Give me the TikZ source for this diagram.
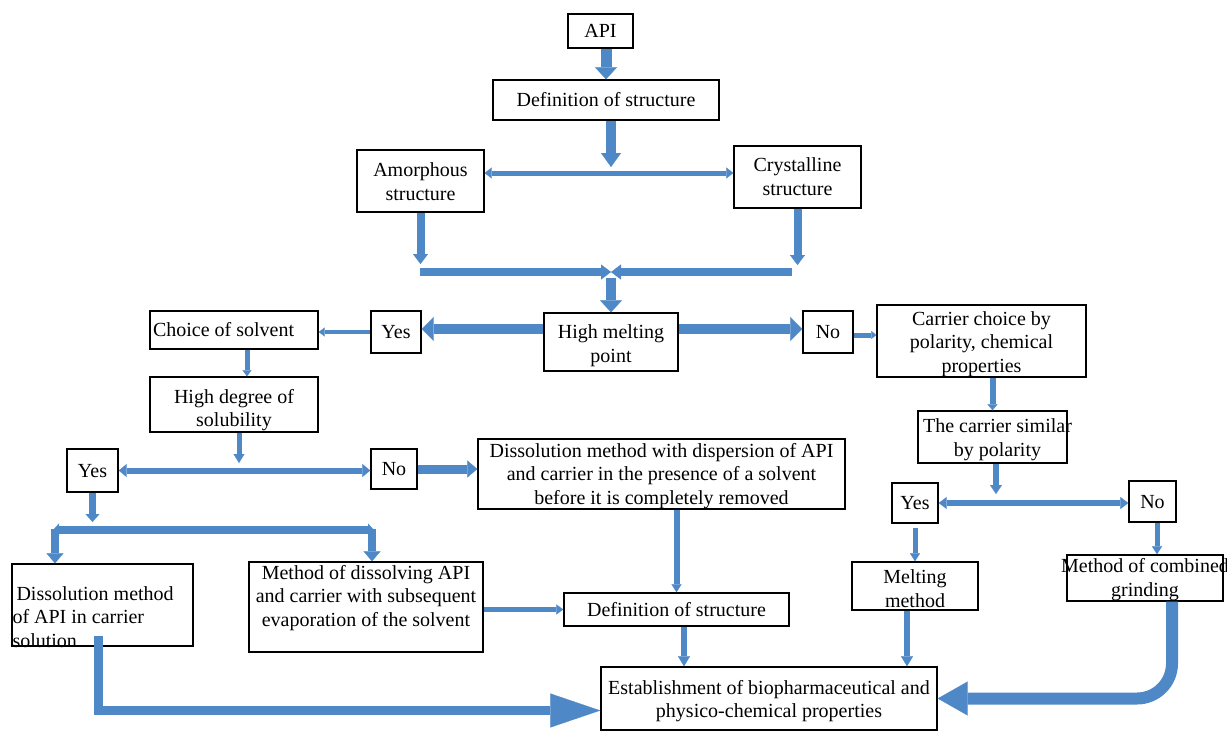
\documentclass[tikz,border=0pt]{standalone}
\usepackage{fontspec}
\setmainfont{Liberation Serif}
\usetikzlibrary{arrows.meta,calc}
\definecolor{ablue}{RGB}{79,136,199}
% centred text block of zero size, shifted down by #2
\newcommand{\tx}[3][c]{\makebox[0pt]{\raisebox{\dimexpr -7pt-#2\relax}[0pt][0pt]{\begin{tabular}{@{}#1@{}}#3\end{tabular}}}}
% left-aligned text block: #1 horizontal offset from centre, #2 shift down
\newcommand{\txl}[3]{\makebox[0pt][l]{\hspace{#1}\raisebox{\dimexpr -7pt-#2\relax}[0pt][0pt]{\begin{tabular}{@{}l@{}}#3\end{tabular}}}}
\begin{document}
\begin{tikzpicture}[x=1pt,y=-1pt,
  box/.style 2 args={draw=black, line width=1.4pt, minimum width=#1pt, minimum height=#2pt, inner sep=0pt, font=\fontsize{20}{23.5}\selectfont},
  ar/.style n args={3}{draw=ablue, line width=#1pt, line join=miter, -{Triangle[width=#2pt,length=#3pt,line width=0.2pt]}},
  dar/.style n args={3}{draw=ablue, line width=#1pt, {Triangle[width=#2pt,length=#3pt,line width=0.2pt]}-{Triangle[width=#2pt,length=#3pt,line width=0.2pt]}}]
\useasboundingbox (0,0) rectangle (1227,731);

% ---------- boxes ----------
\node[box={65}{34}] (api) at (600.5,31) {\tx{0pt}{API}};
\node[box={226}{40}] (def1) at (606,100) {\tx{0pt}{Definition of structure}};
\node[box={127}{62}] (amor) at (420.5,181) {\tx{1pt}{Amorphous\\structure}};
\node[box={127}{62}] (cryst) at (797.5,177) {\tx{0pt}{Crystalline\\structure}};
\node[box={134}{58}] (hmp) at (611,342) {\tx{2pt}{High melting\\point}};
\node[box={50}{42}] (yes1) at (396,332) {\tx{0pt}{Yes}};
\node[box={168}{38}] (choice) at (234,330) {\txl{-81pt}{0pt}{Choice of solvent}};
\node[box={50}{42}] (no1) at (828,332) {\tx{0pt}{No}};
\node[box={209}{72}] (carrier) at (981.5,341) {\tx{1pt}{Carrier choice by\\polarity, chemical\\properties}};
\node[box={168}{55}] (hds) at (234,404.5) {\tx{4pt}{High degree of\\solubility}};
\node[box={149}{52}] (sim) at (992.5,437) {\tx{1pt}{\hspace{10pt}The carrier similar\\\hspace{10pt}by polarity}};
\node[box={51}{43}] (yes2) at (92.5,470.5) {\tx{0pt}{Yes}};
\node[box={46}{40}] (no2) at (394,469) {\tx{0pt}{No}};
\node[box={367}{70}] (disp) at (661.5,474) {\tx{0pt}{Dissolution method with dispersion of API\\and carrier in the presence of a solvent\\before it is completely removed}};
\node[box={46}{40}] (yes3) at (915,503) {\tx{0pt}{Yes}};
\node[box={47}{41}] (no3) at (1152.5,501.5) {\tx{0pt}{No}};
\node[box={181}{82}] (dapi) at (102.5,605) {\txl{-90pt}{12pt}{\hspace{4pt}Dissolution method\\of API in carrier\\solution}};
\node[box={234}{90}] (mdis) at (366,607) {\tx{-11pt}{Method of dissolving API\\and carrier with subsequent\\evaporation of the solvent}};
\node[box={225}{33}] (def2) at (676.5,609.5) {\tx{0pt}{Definition of structure}};
\node[box={126}{48}] (melt) at (915,586) {\tx{3pt}{Melting\\method}};
\node[box={156}{46}] (comb) at (1145,578) {\tx{0pt}{Method of combined\\grinding}};
\node[box={336}{63}] (est) at (769,698.5) {\tx{1pt}{Establishment of biopharmaceutical and\\physico-chemical properties}};

% ---------- helper coordinates ----------
\coordinate (split) at (611,173);
\coordinate (splitTop) at (611,167);
\coordinate (amorEnd) at (420.5,264);
\coordinate (crystEnd) at (797.5,265);
\coordinate (jl) at (420,272);
\coordinate (jr) at (792,272);
\coordinate (jc) at (611,272);
\coordinate (jc2) at (611,278);
\coordinate (hy) at (0,329);
\coordinate (ny) at (0,335);
\coordinate (cs) at (247,0);
\coordinate (hdsx) at (239,0);
\coordinate (hdsEnd) at (239,463);
\coordinate (simx) at (996,0);
\coordinate (simEnd) at (996,494);
\coordinate (yes2End) at (92.5,522);
\coordinate (bl) at (53,530);
\coordinate (br) at (374,530);
\coordinate (blTop) at (55,529);
\coordinate (brTop) at (372,529);
\coordinate (no3x) at (1157,0);
\coordinate (d2x) at (684,0);
\coordinate (mx) at (907,0);
\coordinate (dstart) at (98,636);
\coordinate (cx) at (1172,0);

% ---------- arrows ----------
\draw[ar={11}{22}{12}] (api.south -| def1.north) -- (def1.north);
\draw[ar={10}{20}{14}] (def1.south -| split) -- (splitTop);
\draw[dar={5}{11}{7}] (amor.east |- split) -- (cryst.west |- split);
\draw[ar={8}{15}{10}] (amor.south) -- (amorEnd);
\draw[ar={8}{15}{10}] (cryst.south) -- (crystEnd);
\draw[ar={8}{15}{10}] (jl) -- (jc);
\draw[ar={8}{15}{10}] (jr) -- (jc);
\draw[ar={10}{22}{12}] (jc2) -- (hmp.north);
\draw[ar={10}{24}{12}] (hmp.west |- hy) -- (yes1.east |- hy);
\draw[ar={10}{24}{12}] (hmp.east |- hy) -- (no1.west |- hy);
\draw[ar={4}{9}{6}] (yes1.west) -- (yes1.west -| choice.east);
\draw[ar={5}{8}{5}] (no1.east |- ny) -- (carrier.west |- ny);
\draw[ar={5}{9}{6}] (choice.south -| cs) -- (hds.north -| cs);
\draw[ar={6}{10}{6}] (carrier.south -| sim.north) -- (sim.north);
\draw[ar={5}{11}{9}] (hds.south -| hdsx) -- (hdsEnd);
\draw[dar={6}{13}{8}] (yes2.east) -- (yes2.east -| no2.west);
\draw[ar={9}{17}{10}] (no2.east) -- (no2.east -| disp.west);
\draw[ar={6}{12}{9}] (sim.south -| simx) -- (simEnd);
\draw[dar={6}{12}{8}] (yes3.east) -- (yes3.east -| no3.west);
\draw[ar={7}{14}{8}] (yes2.south) -- (yes2End);
\draw[dar={8}{13}{6}] (bl) -- (br);
\draw[ar={8}{17}{10}] (blTop) -- (blTop |- dapi.north);
\draw[ar={8}{17}{10}] (brTop) -- (brTop |- mdis.north);
\draw[ar={5}{10}{8}, shorten <=4pt] (yes3.south) -- (melt.north);
\draw[ar={5}{10}{8}] (no3.south -| no3x) -- (comb.north -| no3x);
\draw[ar={6}{10}{8}] (disp.south -| def2.north) -- (def2.north);
\draw[ar={5}{10}{7}] (mdis.east |- def2.west) -- (def2.west);
\draw[ar={6}{12}{10}] (def2.south -| d2x) -- (est.north -| d2x);
\draw[ar={6}{12}{10}] (melt.south -| mx) -- (est.north -| mx);
\draw[ar={9}{34}{50}] (dstart) |- ($(est.west)+(0,12)$);
\draw[ar={12}{34}{30}, rounded corners=35pt] (comb.south -| cx) |- (est.east);
\end{tikzpicture}
\end{document}
